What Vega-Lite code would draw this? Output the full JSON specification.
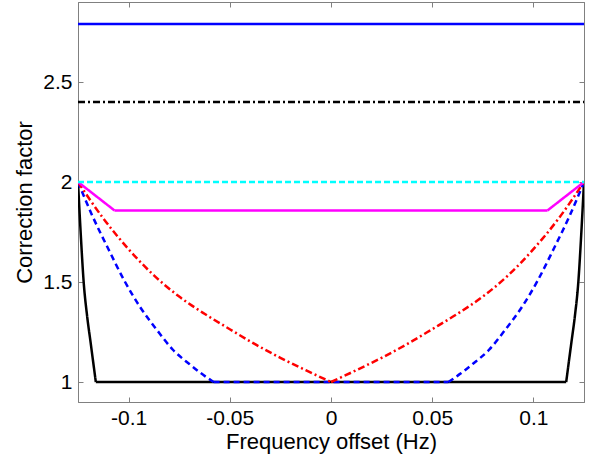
{
  "$schema": "https://vega.github.io/schema/vega-lite/v6.json",
  "width": 506,
  "height": 400,
  "autosize": "none",
  "padding": {"left": 78, "top": 2, "right": 8, "bottom": 58},
  "background": "white",
  "data": {
    "values": [
      {"series": "black", "seg": "kL", "x": -0.125, "y": 2.0},
      {"series": "black", "seg": "kL", "x": -0.1237, "y": 1.75},
      {"series": "black", "seg": "kL", "x": -0.1222, "y": 1.5},
      {"series": "black", "seg": "kL", "x": -0.1205, "y": 1.33},
      {"series": "black", "seg": "kL", "x": -0.1188, "y": 1.2},
      {"series": "black", "seg": "kL", "x": -0.1175, "y": 1.1},
      {"series": "black", "seg": "kL", "x": -0.1162, "y": 1.0},
      {"series": "black", "seg": "kM", "x": -0.1162, "y": 1.0},
      {"series": "black", "seg": "kM", "x": 0.1162, "y": 1.0},
      {"series": "black", "seg": "kR", "x": 0.1162, "y": 1.0},
      {"series": "black", "seg": "kR", "x": 0.1175, "y": 1.1},
      {"series": "black", "seg": "kR", "x": 0.1188, "y": 1.2},
      {"series": "black", "seg": "kR", "x": 0.1205, "y": 1.33},
      {"series": "black", "seg": "kR", "x": 0.1222, "y": 1.5},
      {"series": "black", "seg": "kR", "x": 0.1237, "y": 1.75},
      {"series": "black", "seg": "kR", "x": 0.125, "y": 2.0},

      {"series": "bluedash", "seg": "bdL", "x": -0.125, "y": 2.0},
      {"series": "bluedash", "seg": "bdL", "x": -0.118, "y": 1.833},
      {"series": "bluedash", "seg": "bdL", "x": -0.11, "y": 1.665},
      {"series": "bluedash", "seg": "bdL", "x": -0.102, "y": 1.505},
      {"series": "bluedash", "seg": "bdL", "x": -0.094, "y": 1.37},
      {"series": "bluedash", "seg": "bdL", "x": -0.086, "y": 1.26},
      {"series": "bluedash", "seg": "bdL", "x": -0.078, "y": 1.16},
      {"series": "bluedash", "seg": "bdL", "x": -0.07, "y": 1.09},
      {"series": "bluedash", "seg": "bdL", "x": -0.064, "y": 1.042},
      {"series": "bluedash", "seg": "bdL", "x": -0.058, "y": 1.0},
      {"series": "bluedash", "seg": "bdM", "x": -0.058, "y": 1.0},
      {"series": "bluedash", "seg": "bdM", "x": 0.058, "y": 1.0},
      {"series": "bluedash", "seg": "bdR", "x": 0.058, "y": 1.0},
      {"series": "bluedash", "seg": "bdR", "x": 0.064, "y": 1.042},
      {"series": "bluedash", "seg": "bdR", "x": 0.07, "y": 1.09},
      {"series": "bluedash", "seg": "bdR", "x": 0.078, "y": 1.16},
      {"series": "bluedash", "seg": "bdR", "x": 0.086, "y": 1.26},
      {"series": "bluedash", "seg": "bdR", "x": 0.094, "y": 1.37},
      {"series": "bluedash", "seg": "bdR", "x": 0.102, "y": 1.505},
      {"series": "bluedash", "seg": "bdR", "x": 0.11, "y": 1.665},
      {"series": "bluedash", "seg": "bdR", "x": 0.118, "y": 1.833},
      {"series": "bluedash", "seg": "bdR", "x": 0.125, "y": 2.0},

      {"series": "red", "seg": "rL", "x": -0.125, "y": 2.0},
      {"series": "red", "seg": "rL", "x": -0.1125, "y": 1.818},
      {"series": "red", "seg": "rL", "x": -0.1, "y": 1.664},
      {"series": "red", "seg": "rL", "x": -0.0875, "y": 1.533},
      {"series": "red", "seg": "rL", "x": -0.075, "y": 1.427},
      {"series": "red", "seg": "rL", "x": -0.0625, "y": 1.341},
      {"series": "red", "seg": "rL", "x": -0.05, "y": 1.264},
      {"series": "red", "seg": "rL", "x": -0.0375, "y": 1.189},
      {"series": "red", "seg": "rL", "x": -0.025, "y": 1.121},
      {"series": "red", "seg": "rL", "x": -0.0125, "y": 1.059},
      {"series": "red", "seg": "rL", "x": 0, "y": 1.0},
      {"series": "red", "seg": "rR", "x": 0, "y": 1.0},
      {"series": "red", "seg": "rR", "x": 0.0125, "y": 1.059},
      {"series": "red", "seg": "rR", "x": 0.025, "y": 1.121},
      {"series": "red", "seg": "rR", "x": 0.0375, "y": 1.189},
      {"series": "red", "seg": "rR", "x": 0.05, "y": 1.264},
      {"series": "red", "seg": "rR", "x": 0.0625, "y": 1.341},
      {"series": "red", "seg": "rR", "x": 0.075, "y": 1.427},
      {"series": "red", "seg": "rR", "x": 0.0875, "y": 1.533},
      {"series": "red", "seg": "rR", "x": 0.1, "y": 1.664},
      {"series": "red", "seg": "rR", "x": 0.1125, "y": 1.818},
      {"series": "red", "seg": "rR", "x": 0.125, "y": 2.0},

      {"series": "magenta", "seg": "mL", "x": -0.125, "y": 2.0},
      {"series": "magenta", "seg": "mL", "x": -0.107, "y": 1.858},
      {"series": "magenta", "seg": "mM", "x": -0.107, "y": 1.858},
      {"series": "magenta", "seg": "mM", "x": 0.107, "y": 1.858},
      {"series": "magenta", "seg": "mR", "x": 0.107, "y": 1.858},
      {"series": "magenta", "seg": "mR", "x": 0.125, "y": 2.0},

      {"series": "cyan", "seg": "c", "x": -0.125, "y": 2.0},
      {"series": "cyan", "seg": "c", "x": 0.125, "y": 2.0},

      {"series": "blackdashdot", "seg": "kd", "x": -0.125, "y": 2.4},
      {"series": "blackdashdot", "seg": "kd", "x": 0.125, "y": 2.4},

      {"series": "blue", "seg": "b", "x": -0.125, "y": 2.79},
      {"series": "blue", "seg": "b", "x": 0.125, "y": 2.79}
    ]
  },
  "layer": [
    {
      "mark": {"type": "line", "clip": true, "interpolate": "monotone", "strokeCap": "butt"},
      "encoding": {
        "x": {
          "field": "x",
          "type": "quantitative",
          "scale": {"domain": [-0.125, 0.125], "nice": false, "zero": false},
          "axis": {
            "title": "Frequency offset (Hz)",
            "values": [-0.1, -0.05, 0, 0.05, 0.1],
            "labelExpr": "datum.value + ''",
            "grid": false,
            "tickSize": -5,
            "tickColor": "#808080",
            "domainColor": "#808080",
            "labelPadding": 10,
            "labelFont": "Liberation Sans",
            "labelFontSize": 21,
            "labelColor": "black",
            "titleFont": "Liberation Sans",
            "titleFontSize": 22,
            "titleFontWeight": "normal",
            "titleColor": "black",
            "titlePadding": 3
          }
        },
        "y": {
          "field": "y",
          "type": "quantitative",
          "scale": {"domain": [0.9, 2.9], "nice": false, "zero": false},
          "axis": {
            "title": "Correction factor",
            "values": [1, 1.5, 2, 2.5],
            "labelExpr": "datum.value + ''",
            "grid": false,
            "tickSize": -5,
            "tickColor": "#808080",
            "domainColor": "#808080",
            "labelPadding": 11,
            "labelFont": "Liberation Sans",
            "labelFontSize": 21,
            "labelColor": "black",
            "titleFont": "Liberation Sans",
            "titleFontSize": 22,
            "titleFontWeight": "normal",
            "titleColor": "black",
            "titlePadding": 6
          }
        },
        "detail": {"field": "seg"},
        "color": {
          "field": "series",
          "type": "nominal",
          "scale": {
            "domain": ["black", "bluedash", "red", "magenta", "cyan", "blackdashdot", "blue"],
            "range": ["#000000", "#0000ff", "#ff0000", "#ff00ff", "#00ffff", "#000000", "#0000ff"]
          },
          "legend": null
        },
        "strokeDash": {
          "field": "series",
          "type": "nominal",
          "scale": {
            "domain": ["black", "bluedash", "red", "magenta", "cyan", "blackdashdot", "blue"],
            "range": [[1, 0], [6, 4], [7, 3, 2, 3], [1, 0], [6, 3], [7, 3, 2, 3], [1, 0]]
          },
          "legend": null
        },
        "strokeWidth": {
          "field": "series",
          "type": "nominal",
          "scale": {
            "domain": ["black", "bluedash", "red", "magenta", "cyan", "blackdashdot", "blue"],
            "range": [2.5, 2.5, 2, 2, 1.5, 2, 2]
          },
          "legend": null
        }
      }
    },
    {
      "mark": {"type": "line", "opacity": 0},
      "encoding": {
        "x": {
          "field": "x",
          "type": "quantitative",
          "axis": {
            "orient": "top",
            "title": null,
            "labels": false,
            "values": [-0.1, -0.05, 0, 0.05, 0.1],
            "grid": false,
            "tickSize": -5,
            "tickColor": "#808080",
            "domainColor": "#808080"
          }
        },
        "y": {
          "field": "y",
          "type": "quantitative",
          "axis": {
            "orient": "right",
            "title": null,
            "labels": false,
            "values": [1, 1.5, 2, 2.5],
            "grid": false,
            "tickSize": -5,
            "tickColor": "#808080",
            "domainColor": "#808080"
          }
        },
        "detail": {"field": "seg"}
      }
    }
  ],
  "resolve": {"axis": {"x": "independent", "y": "independent"}},
  "config": {
    "view": {"stroke": "#808080"},
    "axis": {"domainWidth": 1, "tickWidth": 1}
  }
}
